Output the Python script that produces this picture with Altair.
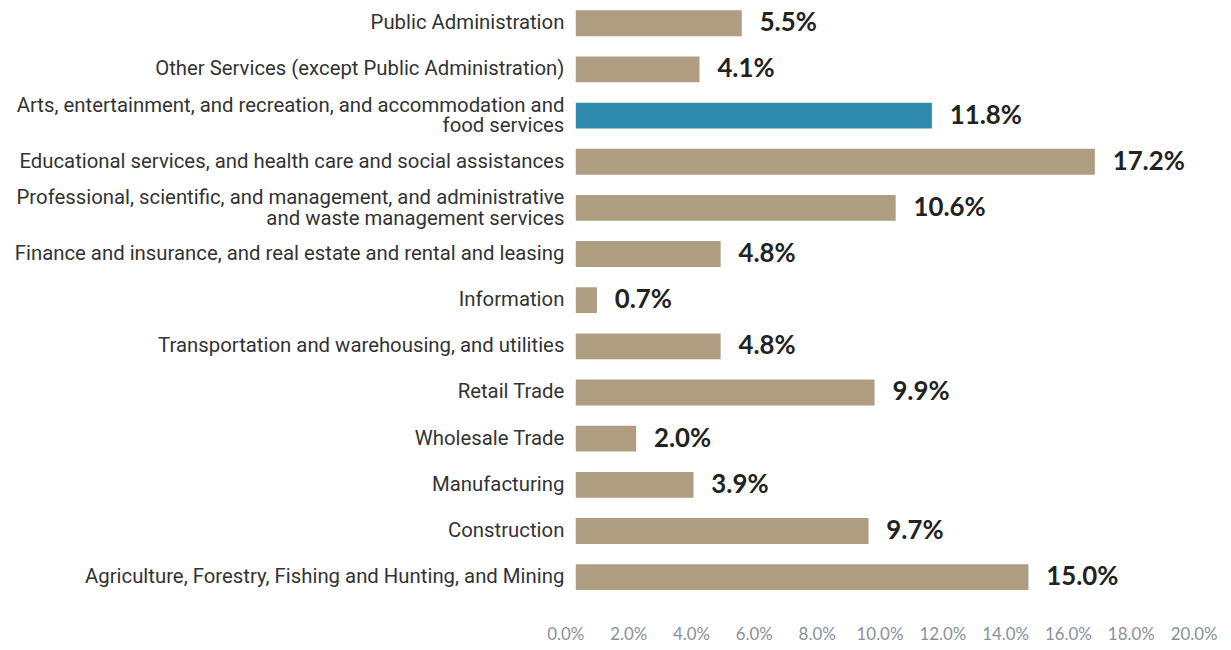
import altair as alt
import pandas as pd

categories = [
    "Public Administration",
    "Other Services (except Public Administration)",
    "Arts, entertainment, and recreation, and accommodation and|food services",
    "Educational services, and health care and social assistances",
    "Professional, scientific, and management, and administrative|and waste management services",
    "Finance and insurance, and real estate and rental and leasing",
    "Information",
    "Transportation and warehousing, and utilities",
    "Retail Trade",
    "Wholesale Trade",
    "Manufacturing",
    "Construction",
    "Agriculture, Forestry, Fishing and Hunting, and Mining",
]
values = [0.055, 0.041, 0.118, 0.172, 0.106, 0.048, 0.007, 0.048, 0.099, 0.020, 0.039, 0.097, 0.150]
highlight = [False, False, True, False, False, False, False, False, False, False, False, False, False]
tick_values = [0.0, 0.02, 0.04, 0.06, 0.08, 0.10, 0.12, 0.14, 0.16, 0.18, 0.20]

df = pd.DataFrame({"cat": categories, "val": values, "hl": highlight})
ticks_df = pd.DataFrame({"tick": tick_values})

PLOT_W = 608
PLOT_H = 584

y_enc = alt.Y(
    "cat:N",
    sort=None,
    title=None,
    scale=alt.Scale(paddingInner=0.44, paddingOuter=0.0),
    axis=alt.Axis(
        labelExpr="split(datum.label, '|')",
        labelOffset=alt.ExprRef("indexof(datum.label, '|') >= 0 ? -10 : 0"),
        labelFont="Roboto",
        labelFontSize=20.5,
        labelColor="#333333",
        labelPadding=12,
        labelLineHeight=21,
        labelLimit=700,
        domain=False,
        ticks=False,
    ),
)

x_enc = alt.X(
    "val:Q",
    title=None,
    scale=alt.Scale(domain=[0, 0.2], nice=False),
    axis=None,
)

bars = alt.Chart(df).mark_bar().encode(
    x=x_enc,
    y=y_enc,
    color=alt.Color(
        "hl:N",
        scale=alt.Scale(domain=[False, True], range=["#ae9d80", "#2e8bad"]),
        legend=None,
    ),
)

text = alt.Chart(df).mark_text(
    align="left", baseline="middle", dx=18, font="Lato", fontWeight="bold", fontSize=26, color="#222222"
).encode(
    x=alt.X("val:Q", scale=alt.Scale(domain=[0, 0.2], nice=False), axis=None),
    y=alt.Y("cat:N", sort=None),
    text=alt.Text("val:Q", format=".1%"),
)

# tick labels of the source chart sit on a slightly wider spacing than the bars
tick_labels = alt.Chart(ticks_df).mark_text(
    align="center", baseline="middle", font="Lato", fontSize=17, color="#8a9099"
).encode(
    x=alt.X("tick:Q", scale=alt.Scale(domain=[0.00316, 0.1953], nice=False, zero=False), axis=None),
    y=alt.value(PLOT_H + 45),
    text=alt.Text("tick:Q", format=".1%"),
)

chart = (
    alt.layer(bars, text, tick_labels)
    .resolve_scale(x="independent")
    .properties(width=PLOT_W, height=PLOT_H, padding={"left": 5, "top": 0, "right": 5, "bottom": 0})
    .configure(background="white")
    .configure_view(stroke=None, strokeWidth=0)
)

chart.save("out.html", embed_options={"renderer": "svg", "actions": False})
